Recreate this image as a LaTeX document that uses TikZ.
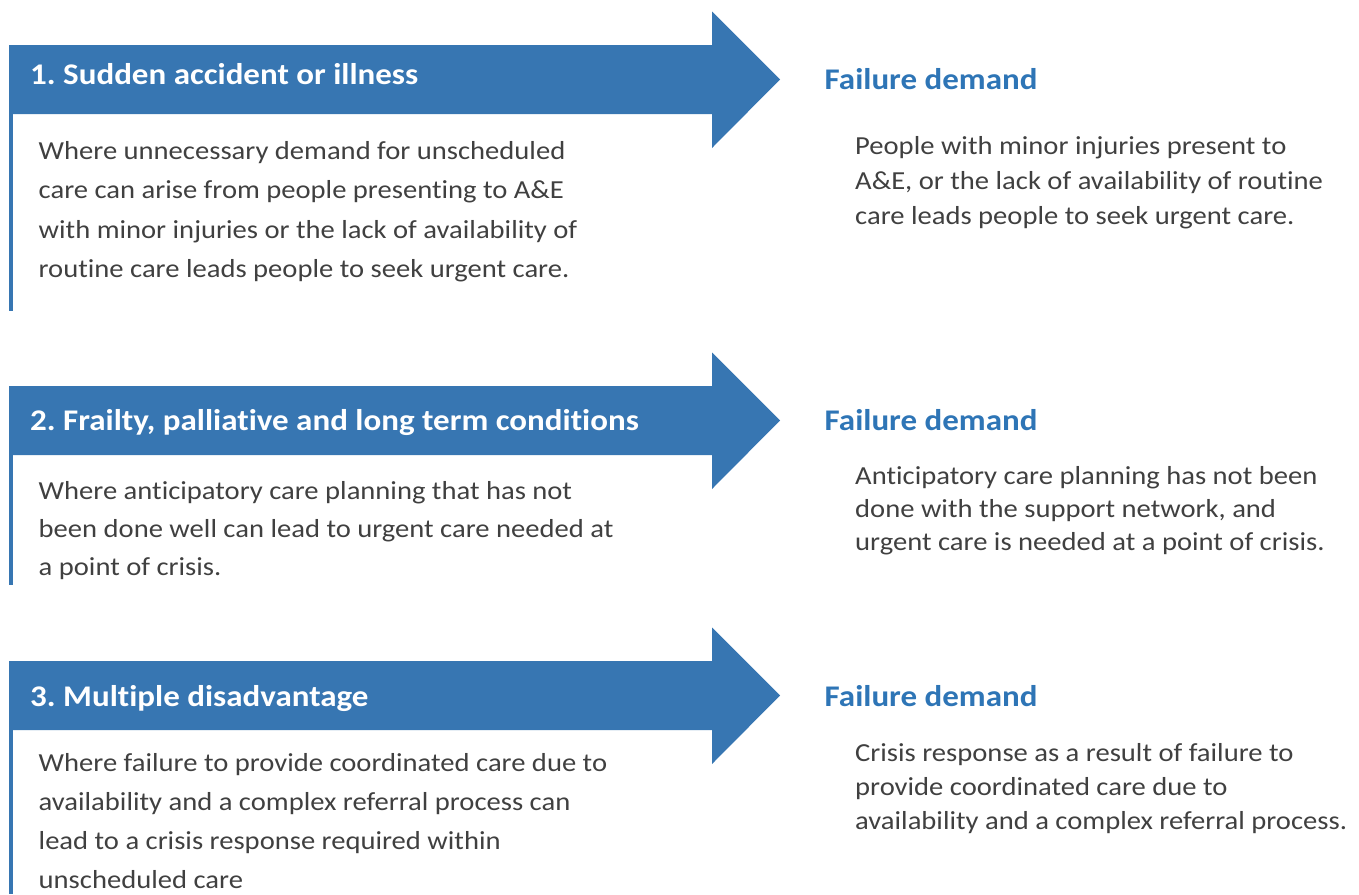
\documentclass[tikz,border=0pt]{standalone}
\usepackage{fontspec}
\setmainfont[FakeStretch=1.1,RawFeature=-liga]{Carlito}
\definecolor{arrowblue}{HTML}{3776B2}
\definecolor{headblue}{HTML}{2E75B6}
\definecolor{bodygray}{HTML}{404040}
\frenchspacing
\begin{document}
\begin{tikzpicture}[x=1pt,y=-1pt,
  arrowshape/.style={fill=arrowblue,draw=none},
  sidebar/.style={draw=arrowblue,line width=4pt},
  titletext/.style={anchor=base west,text=white,font=\fontsize{30}{36}\selectfont\bfseries\frenchspacing,inner sep=0pt},
  fdtext/.style={anchor=base west,text=headblue,font=\fontsize{30}{36}\selectfont\bfseries,inner sep=0pt},
  lefttext/.style={anchor=base west,text=bodygray,align=left,inner sep=0pt,font=\fontsize{26}{#1}\selectfont},
  lefttext/.default=39.5,
  righttext/.style={anchor=base west,text=bodygray,align=left,inner sep=0pt,font=\fontsize{26}{#1}\selectfont},
  righttext/.default=34]
\useasboundingbox (0,0) rectangle (1359,894);
% arrows
\foreach \t in {45,386,661}{
  \fill[arrowshape] (9,\t) -- (712,\t) -- (712,\t-33.5) -- (780,\t+34.5) -- (712,\t+103) -- (712,\t+69) -- (9,\t+69) -- cycle;
}
\draw[sidebar] (11,113) -- (11,311);
\draw[sidebar] (11,454) -- (11,585);
\draw[sidebar] (11,729) -- (11,894);
% titles
\node[titletext] (t1) at (30,84.5) {1. Sudden accident or illness};
\node[titletext] (t2) at (30,430.5) {2. Frailty, palliative and long term conditions};
\node[titletext] (t3) at (30,706.5) {3. Multiple disadvantage};
% left text (anchored at the baseline of the last line)
\node[lefttext=39.5] (l1) at (38.5,277.8) {Where unnecessary demand for unscheduled\\care can arise from people presenting to A\&E\\with minor injuries or the lack of availability of\\routine care leads people to seek urgent care.};
\node[lefttext=38] (l2) at (38.5,575) {Where anticipatory care planning that has not\\been done well can lead to urgent care needed at\\a point of crisis.};
\node[lefttext=39] (l3) at (38.5,888) {Where failure to provide coordinated care due to\\availability and a complex referral process can\\lead to a crisis response required within\\unscheduled care};
% failure demand
\node[fdtext] (f1) at (824.5,89.3) {Failure demand};
\node[fdtext] (f2) at (824.5,430) {Failure demand};
\node[fdtext] (f3) at (824.5,706) {Failure demand};
% right text (anchored at the baseline of the last line)
\node[righttext=35] (r1) at (855,224.3) {People with minor injuries present to\\A\&E, or the lack of availability of routine\\care leads people to seek urgent care.};
\node[righttext=33.2] (r2) at (855,550.7) {Anticipatory care planning has not been\\done with the support network, and\\urgent care is needed at a point of crisis.};
\node[righttext=33.8] (r3) at (855,829.3) {Crisis response as a result of failure to\\provide coordinated care due to\\availability and a complex referral process.};
\end{tikzpicture}
\end{document}
